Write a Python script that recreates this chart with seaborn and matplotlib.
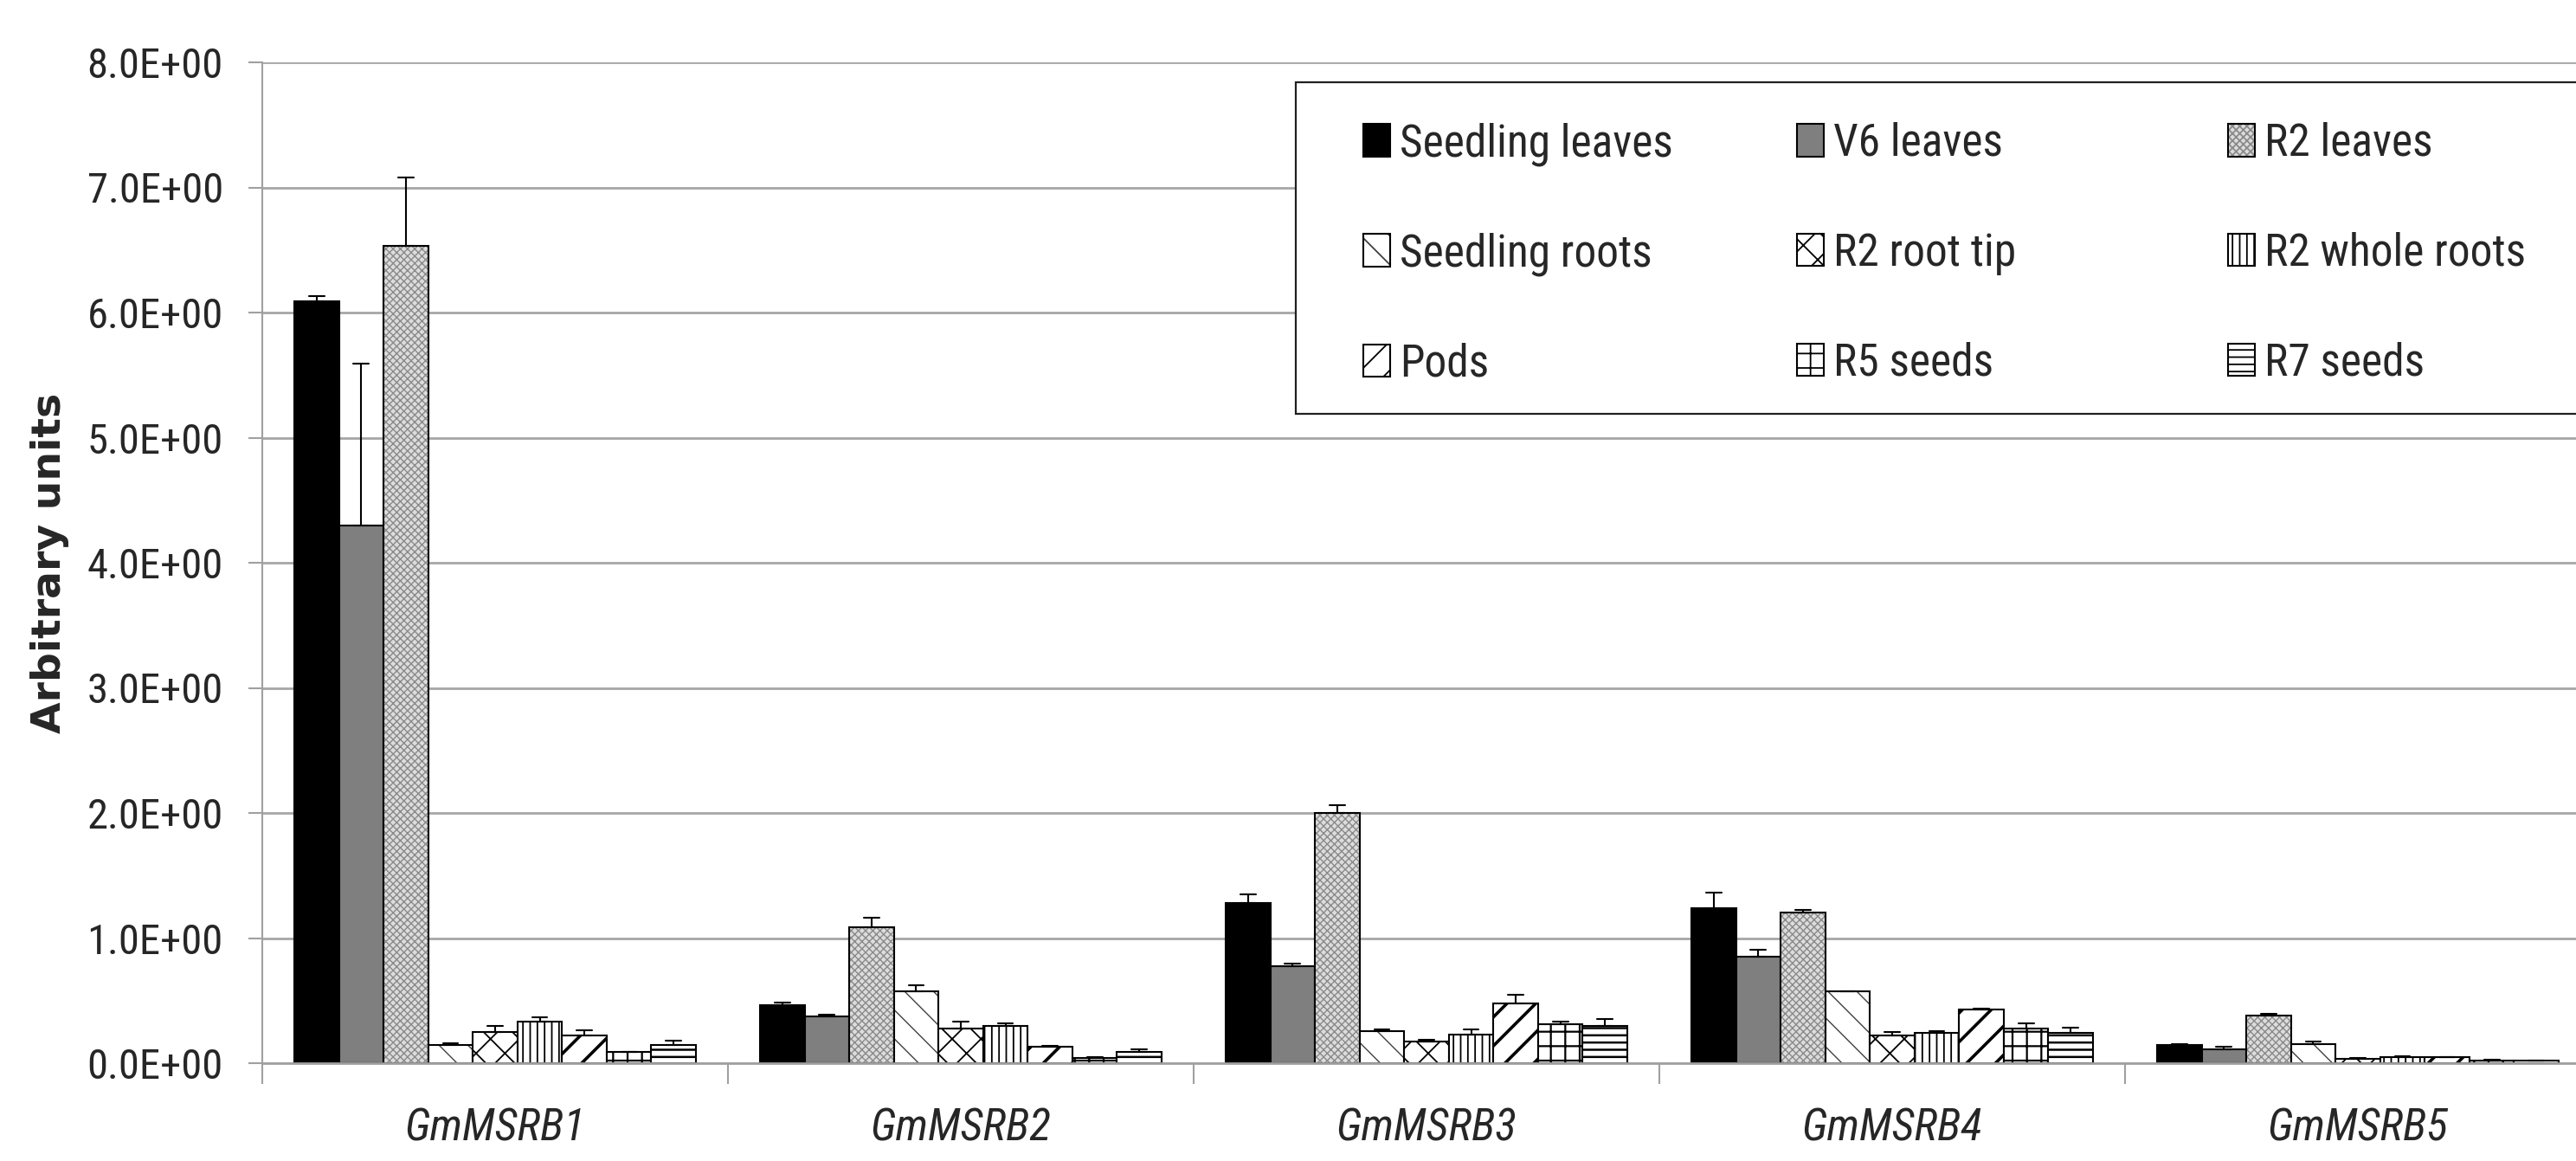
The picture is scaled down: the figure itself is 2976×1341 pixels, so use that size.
import numpy as np
import pandas as pd
import matplotlib
matplotlib.use("Agg")
import matplotlib.pyplot as plt
import matplotlib.patheffects as pe
from matplotlib import font_manager as fm
from matplotlib.patches import Rectangle
from matplotlib.ticker import FuncFormatter
import seaborn as sns

# ---------------- data ----------------
genes = ["GmMSRB1", "GmMSRB2", "GmMSRB3", "GmMSRB4", "GmMSRB5"]
tissues = ["Seedling leaves", "V6 leaves", "R2 leaves", "Seedling roots", "R2 root tip",
           "R2 whole roots", "Pods", "R5 seeds", "R7 seeds"]

seedling_leaves = [6.09, 0.464, 1.278, 1.237, 0.146]
seedling_leaves_err = [0.04, 0.02, 0.07, 0.127, 0.007]
v6_leaves = [4.30, 0.371, 0.777, 0.849, 0.111]
v6_leaves_err = [1.29, 0.02, 0.02, 0.056, 0.02]
r2_leaves = [6.53, 1.086, 2.00, 1.206, 0.383]
r2_leaves_err = [0.55, 0.08, 0.06, 0.02, 0.011]
seedling_roots = [0.146, 0.575, 0.258, 0.571, 0.151]
seedling_roots_err = [0.01, 0.045, 0.012, 0.005, 0.019]
r2_root_tip = [0.25, 0.28, 0.17, 0.223, 0.037]
r2_root_tip_err = [0.045, 0.05, 0.015, 0.023, 0.005]
r2_whole_roots = [0.335, 0.30, 0.23, 0.244, 0.046]
r2_whole_roots_err = [0.035, 0.02, 0.04, 0.014, 0.01]
pods = [0.22, 0.13, 0.48, 0.427, 0.046]
pods_err = [0.045, 0.01, 0.07, 0.009, 0.005]
r5_seeds = [0.087, 0.042, 0.31, 0.278, 0.023]
r5_seeds_err = [0.005, 0.008, 0.02, 0.042, 0.003]
r7_seeds = [0.146, 0.093, 0.30, 0.244, 0.019]
r7_seeds_err = [0.037, 0.018, 0.055, 0.041, 0.003]

yticks = [0, 1, 2, 3, 4, 5, 6, 7, 8]
ylabel = "Arbitrary units"

values = [seedling_leaves, v6_leaves, r2_leaves, seedling_roots, r2_root_tip,
          r2_whole_roots, pods, r5_seeds, r7_seeds]
errors = [seedling_leaves_err, v6_leaves_err, r2_leaves_err, seedling_roots_err,
          r2_root_tip_err, r2_whole_roots_err, pods_err, r5_seeds_err, r7_seeds_err]

# long table: each bar has its value and value+err; bar = min, error bar = (min, max)
rows = []
for t, vals, errs in zip(tissues, values, errors):
    for g, v, e in zip(genes, vals, errs):
        rows.append((g, t, v))
        rows.append((g, t, v + e))
df = pd.DataFrame(rows, columns=["gene", "tissue", "value"])

# ---------------- style ----------------
sns.set_theme(style="white")
plt.rcParams["font.family"] = ["DejaVu Sans"]
plt.rcParams["hatch.linewidth"] = 1.3

names = {f.name for f in fm.fontManager.ttflist}
narrow = None
for cand in ["Liberation Sans Narrow", "Roboto Condensed", "Open Sans Condensed",
             "Arial Narrow", "Noto Sans Condensed"]:
    if cand in names:
        narrow = cand
        break
if narrow is None:
    tick_fp = fm.FontProperties(family="Liberation Sans", size=31)
    ital_fp = fm.FontProperties(family="Liberation Sans", style="italic", size=31)
    leg_fp = fm.FontProperties(family="Liberation Sans", size=33)
else:
    tick_fp = fm.FontProperties(family=narrow, size=35)
    ital_fp = fm.FontProperties(family=narrow, style="italic", size=37)
    leg_fp = fm.FontProperties(family=narrow, size=37)

W, H = 2976, 1341
fig = plt.figure(figsize=(W / 100, H / 100), dpi=100)
ax = fig.add_axes([303 / W, (H - 1228) / H, 2690 / W, (1228 - 72) / H])

face = {"Seedling leaves": "black", "V6 leaves": "#7f7f7f", "R2 leaves": "#dcdcdc",
        "Seedling roots": "white", "R2 root tip": "white", "R2 whole roots": "white",
        "Pods": "white", "R5 seeds": "white", "R7 seeds": "white"}
hatches = ["", "", "xxxx", "\\", "x", "||", "/", "+", "--"]
hatch_colors = ["black", "black", "#8a8a8a", "#404040", "black", "black", "black", "black", "black"]
hatch_lw = [1.3, 1.3, 1.0, 1.0, 1.3, 1.3, 2.6, 1.6, 1.8]

sns.barplot(data=df, x="gene", y="value", hue="tissue", order=genes, hue_order=tissues,
            estimator="min", errorbar=lambda v: (v.min(), v.max()),
            palette=face, saturation=1, width=0.862, capsize=0.3,
            err_kws={"color": "black", "linewidth": 1.5},
            edgecolor="black", linewidth=1.5, legend=False, ax=ax)

for i, cont in enumerate(ax.containers):
    for p in cont.patches:
        if hatches[i]:
            p.set_hatch(hatches[i])
            p.set_edgecolor(hatch_colors[i])
            if hasattr(p, "set_hatch_linewidth"):
                p.set_hatch_linewidth(hatch_lw[i])
            p.set_path_effects([pe.Stroke(linewidth=1.5, foreground="black")])

# axes styling
ax.set_ylim(0, 8)
ax.set_xlim(-0.5, len(genes) - 0.5)
ax.set_yticks(yticks)
ax.yaxis.set_major_formatter(FuncFormatter(lambda v, pos: f"{v:.1E}"))
for lab in ax.get_yticklabels():
    lab.set_fontproperties(tick_fp)
ax.tick_params(axis="y", length=11.5, width=1.5, color="#a0a0a0", pad=21, left=True)

ax.set_xticks(np.arange(-0.5, len(genes)), [""] * (len(genes) + 1))
ax.set_xticks(np.arange(len(genes)), minor=True)
ax.set_xticklabels(genes, minor=True, fontproperties=ital_fp)
ax.tick_params(axis="x", which="major", length=17, width=1.5, color="#a0a0a0", bottom=True)
ax.tick_params(axis="x", which="minor", length=0, pad=36)

ax.yaxis.grid(True, color="#a6a6a6", linewidth=2)
ax.xaxis.grid(False)
ax.set_axisbelow(True)
for s in ["top", "right"]:
    ax.spines[s].set_visible(False)
ax.spines["left"].set_color("#a0a0a0")
ax.spines["left"].set_linewidth(1.5)
ax.spines["bottom"].set_color("#a0a0a0")
ax.spines["bottom"].set_linewidth(2)

ax.set_xlabel("")
ax.set_ylabel(ylabel, fontsize=34, fontweight="bold", family="DejaVu Sans")
ax.yaxis.set_label_coords((80 - 303) / 2690, 0.5)

# legend frame and legend (three columns, row-wise order as in the original)
fig.add_artist(Rectangle((1497 / W, (H - 478) / H), 0.6, 383 / H, transform=fig.transFigure,
                         facecolor="white", edgecolor="#202020", linewidth=1.6,
                         clip_on=False, zorder=2))
col_x = [1575, 2076, 2574]
fs_px = leg_fp.get_size_in_points() * 100 / 72
for c in range(3):
    idx = [c, c + 3, c + 6]
    leg = fig.legend([ax.containers[i].patches[0] for i in idx], [tissues[i] for i in idx],
                     loc="upper left", bbox_to_anchor=(col_x[c] / W, (H - 141) / H),
                     bbox_transform=fig.transFigure, ncol=1, frameon=False, prop=leg_fp,
                     handlelength=31 / fs_px, handleheight=38 / fs_px,
                     handletextpad=11 / fs_px, labelspacing=1.49,
                     borderpad=0, borderaxespad=0)
    leg.set_zorder(5)

fig.savefig("out.png", dpi=100)
